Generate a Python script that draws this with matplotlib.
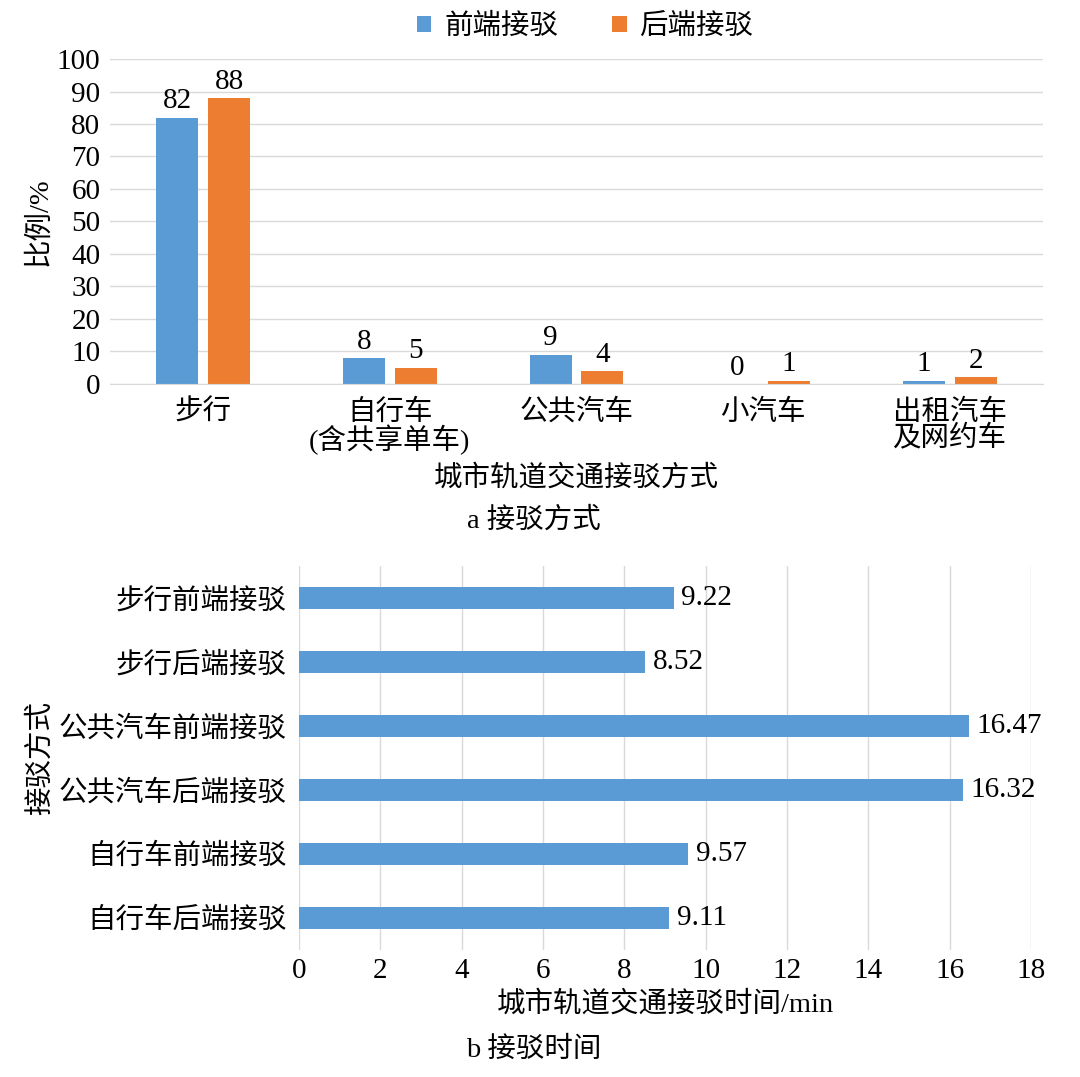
import matplotlib
matplotlib.use("Agg")
from matplotlib import pyplot as plt
import numpy as np

plt.rcParams['font.family'] = ['Liberation Serif', 'Noto Sans CJK SC']

# data, panel a
modes = ["步行", "自行车\n(含共享单车)", "公共汽车", "小汽车", "出租汽车\n及网约车"]
front_share = [82, 8, 9, 0, 1]
back_share = [88, 5, 4, 1, 2]
share_ticks = [0, 10, 20, 30, 40, 50, 60, 70, 80, 90, 100]

# data, panel b
time_labels = ["步行前端接驳", "步行后端接驳", "公共汽车前端接驳",
               "公共汽车后端接驳", "自行车前端接驳", "自行车后端接驳"]
time_values = [9.22, 8.52, 16.47, 16.32, 9.57, 9.11]
time_ticks = [0, 2, 4, 6, 8, 10, 12, 14, 16, 18]

blue = "#5B9BD5"
orange = "#ED7D31"
grid_c = "#D9D9D9"
fs = 20.5   # chinese text
fn = 21     # numbers

fig = plt.figure(figsize=(10.8, 10.77), dpi=100)

# ---- panel a
ax1 = fig.add_axes([0.1019, 0.6435, 0.8638, 0.3017])
x = np.arange(len(modes))
w = 0.225
off = 0.139
b1 = ax1.bar(x - off, front_share, w, color=blue, label="前端接驳")
b2 = ax1.bar(x + off, back_share, w, color=orange, label="后端接驳")
for bars in (b1, b2):
    for r in bars:
        ax1.text(r.get_x() + r.get_width() / 2, r.get_height() + 1.0,
                 "%d" % r.get_height(), ha='center', va='bottom', fontsize=fn)
ax1.set_xlim(-0.5, len(modes) - 0.5)
ax1.set_ylim(0, 100)
ax1.set_yticks(share_ticks)
ax1.set_xticks(x)
ax1.set_xticklabels(modes, fontsize=fs, linespacing=0.95)
ax1.tick_params(axis='y', labelsize=fn, length=0, pad=7)
ax1.tick_params(axis='x', length=0, pad=11)
ax1.yaxis.grid(True, color=grid_c, linewidth=1)
ax1.set_axisbelow(True)
for s in ['top', 'right', 'left']:
    ax1.spines[s].set_visible(False)
ax1.spines['bottom'].set_color(grid_c)
ax1.set_ylabel("比例/%", fontsize=fs, labelpad=3)
ax1.set_xlabel("城市轨道交通接驳方式", fontsize=fs, labelpad=7)
fig.legend(handles=[b1, b2], loc='center', bbox_to_anchor=(0.542, 0.975), ncol=2,
           frameon=False, fontsize=fs, handlelength=0.5, handleheight=0.5,
           handletextpad=0.45, columnspacing=1.9)
fig.text(0.494, 0.517, "a 接驳方式", ha='center', va='center', fontsize=fs)

# ---- panel b
ax2 = fig.add_axes([0.2769, 0.1179, 0.6777, 0.3566])
y = np.arange(len(time_labels))
bars = ax2.barh(y, time_values, 0.34, color=blue)
for r, v in zip(bars, time_values):
    ax2.text(v + 0.18, r.get_y() + r.get_height() / 2, "%.2f" % v,
             ha='left', va='center', fontsize=fn)
ax2.set_ylim(len(time_labels) - 0.5, -0.5)
ax2.set_yticks(y)
ax2.set_yticklabels(time_labels, fontsize=fs)
ax2.set_xlim(0, 18)
ax2.set_xticks(time_ticks)
ax2.tick_params(axis='x', labelsize=fn, length=0, pad=6)
ax2.tick_params(axis='y', length=0, pad=9)
ax2.xaxis.grid(True, color=grid_c, linewidth=1)
ax2.set_axisbelow(True)
for s in ['top', 'right', 'left', 'bottom']:
    ax2.spines[s].set_visible(False)
ax2.set_xlabel("城市轨道交通接驳时间/min", fontsize=fs, labelpad=5)
ax2.set_ylabel("接驳方式", fontsize=fs, labelpad=3)
fig.text(0.494, 0.025, "b 接驳时间", ha='center', va='center', fontsize=fs)

fig.savefig("out.png", dpi=100)
